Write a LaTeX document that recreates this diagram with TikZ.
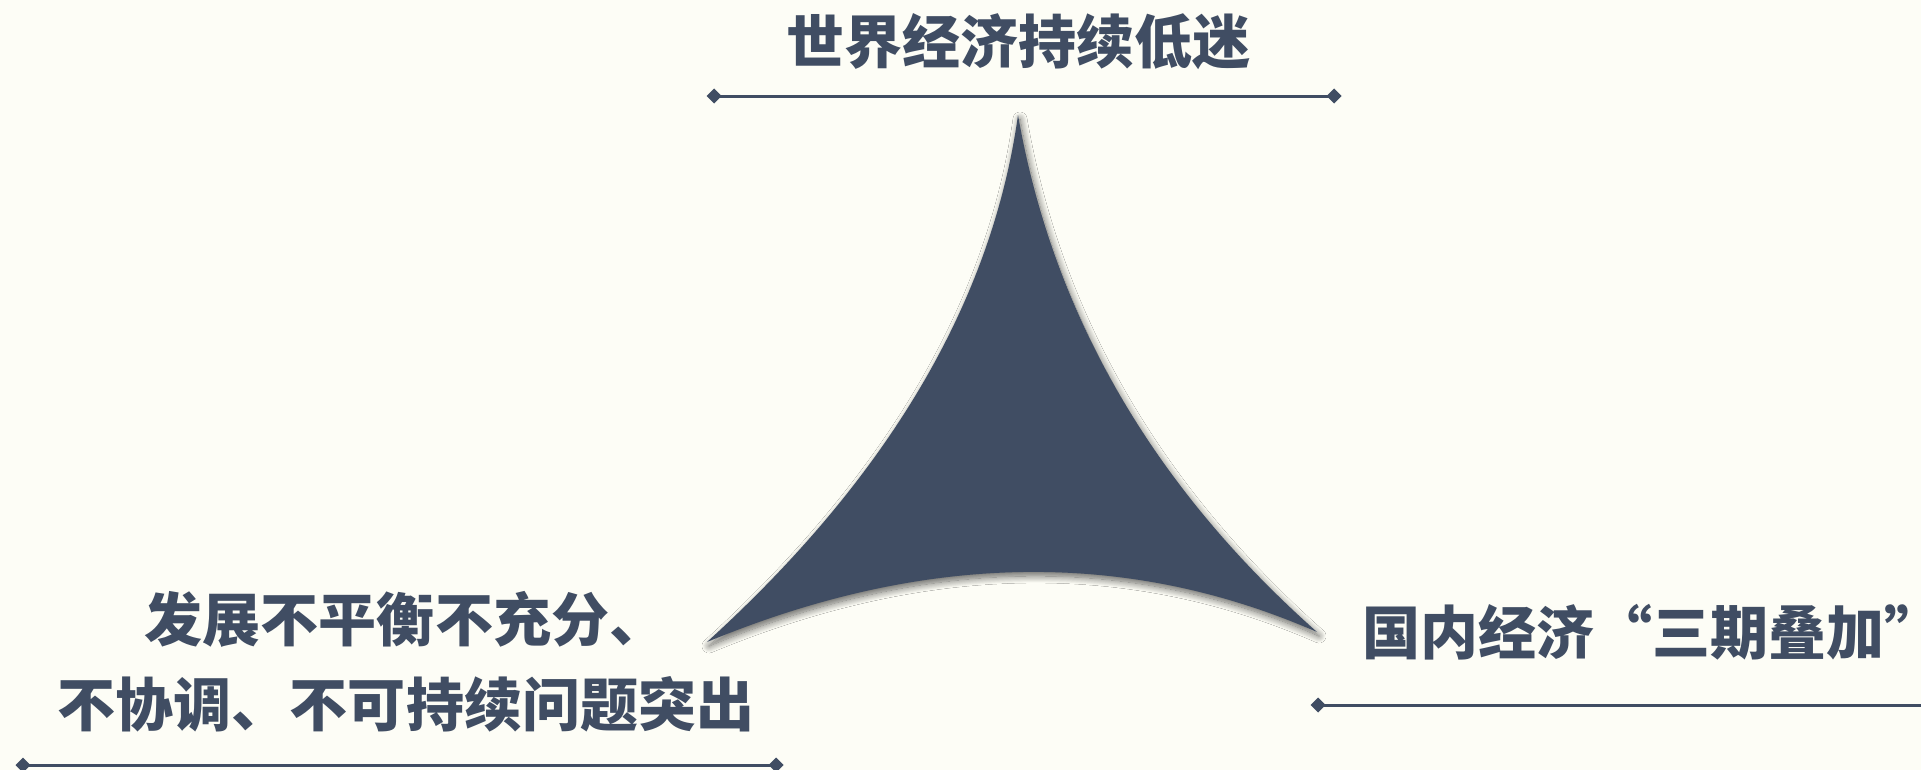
\documentclass[tikz,border=0pt]{standalone}
\usepackage{fontspec}
\newfontfamily\cjk{Noto Sans CJK SC}
\usetikzlibrary{arrows.meta,shadows.blur}
\definecolor{slate}{HTML}{404D63}
\definecolor{cream}{HTML}{FDFDF6}
\tikzset{
  label text/.style={text=slate, font=\cjk\bfseries\fontsize{58bp}{85bp}\selectfont, inner sep=0pt},
  rule line/.style={draw=slate, line width=3bp},
  diamond tip/.style={Diamond[length=15bp,width=15bp]}
}
\begin{document}
\begin{tikzpicture}[x=1bp,y=-1bp]
\fill[cream] (0,0) rectangle (1921,770);
\useasboundingbox (0,0) rectangle (1921,770);
% curved triangle
\coordinate (A) at (1018,115);
\coordinate (L) at (707,642);
\coordinate (R) at (1317,632);
\fill[slate, blur shadow={shadow xshift=2bp, shadow yshift=-4bp, shadow blur radius=7bp, shadow blur steps=14, shadow opacity=60}]
  (A) .. controls (992,301.7) and (888.3,477.3) .. (L)
      .. controls (923.7,552) and (1127,548.7) .. (R)
      .. controls (1152.3,486) and (1052.7,313.7) .. (A) -- cycle;
% texts
\node[label text] (top) at (1018,42) {世界经济持续低迷};
\node[label text, align=center] (left) at (406,662) {发展不平衡不充分、\\不协调、不可持续问题突出};
\node[label text, anchor=west] (right) at (1362,632) {国内经济“三期叠加\rlap{”}};
% rules
\coordinate (t1) at (706.5,96);
\coordinate (t2) at (1341.5,96);
\coordinate (b1) at (15.5,765);
\coordinate (b2) at (783.5,765);
\coordinate (r1) at (1310.5,705);
\coordinate (r2) at (1925,705);
\draw[rule line, {Diamond[length=15bp,width=15bp]}-{Diamond[length=15bp,width=15bp]}] (t1) -- (t2);
\draw[rule line, {Diamond[length=15bp,width=15bp]}-{Diamond[length=15bp,width=15bp]}] (b1) -- (b2);
\draw[rule line, {Diamond[length=15bp,width=15bp]}-] (r1) -- (r2);
\end{tikzpicture}
\end{document}
